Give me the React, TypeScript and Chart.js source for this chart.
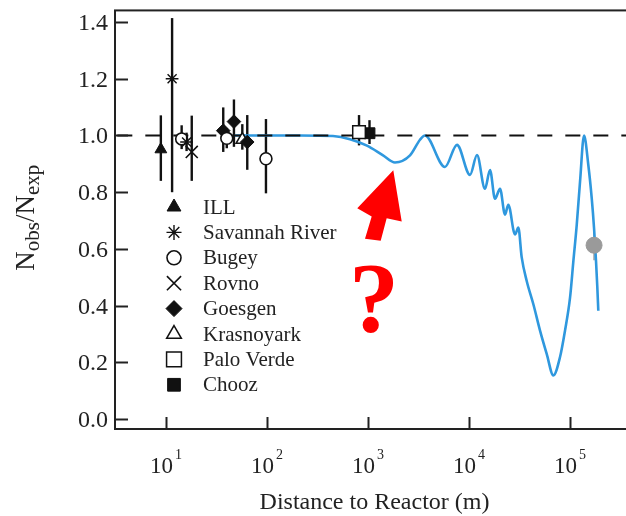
import React, { useEffect, useRef } from 'react';
import { Chart, registerables } from 'chart.js';
import { drawPoint } from 'chart.js/helpers';

Chart.register(...registerables);

// ---------- axes ----------
const yTickValues = [0, 0.2, 0.4, 0.6, 0.8, 1.0, 1.2, 1.4];
const yTickLabels = ['0.0', '0.2', '0.4', '0.6', '0.8', '1.0', '1.2', '1.4'];
const xTickValues = [10, 100, 1000, 10000, 100000];
const xTickExponents = ['1', '2', '3', '4', '5'];
const xAxisTitle = 'Distance to Reactor (m)';
const X_MIN = 3.13;
const X_MAX = 374800;
const Y_MIN = -0.035;
const Y_MAX = 1.441;

// ---------- experiments (distance m, Nobs/Nexp, error bar low/high) ----------
const illDist = [8.9];
const illRatio = [0.951];
const illLow = [0.84];
const illHigh = [1.071];

const savDist = [11.5, 16.0];
const savRatio = [1.2, 0.977];
const savLow = [0.8, 0.945];
const savHigh = [1.414, 1.01];

const bugeyDist = [14.3, 40, 97.7];
const bugeyRatio = [0.988, 0.99, 0.918];
const bugeyLow = [0.952, 0.955, 0.796];
const bugeyHigh = [1.036, 1.025, 1.058];

const rovnoDist = [18.0];
const rovnoRatio = [0.942];
const rovnoLow = [0.84];
const rovnoHigh = [1.07];

const goesgenDist = [36.9, 47.1, 63.8];
const goesgenRatio = [1.017, 1.049, 0.977];
const goesgenLow = [0.942, 0.96, 0.879];
const goesgenHigh = [1.099, 1.127, 1.072];

const krasDist = [57];
const krasRatio = [0.985];
const krasLow = [0.95];
const krasHigh = [1.04];

const paloDist = [815];
const paloRatio = [1.012];
const paloLow = [0.965];
const paloHigh = [1.072];

const choozDist = [1035];
const choozRatio = [1.008];
const choozLow = [0.97];
const choozHigh = [1.054];

// ---------- oscillation curve ----------
const oscDist = [48, 212, 450, 663, 977, 1409, 1850, 2605, 3273, 3664, 5781, 7603, 10233, 11995, 14390, 16140, 18080, 20280, 22710, 24490, 28530, 30770, 33240, 37250, 43350, 50470, 58750, 68390, 79620, 89190, 100000, 107900, 116500, 125600, 137600, 151800, 164000, 172900, 180800, 186300, 190500];
const oscRatio = [1.0, 1.0, 0.998, 0.987, 0.964, 0.93, 0.905, 0.93, 0.985, 1.0, 0.889, 0.967, 0.861, 0.931, 0.812, 0.878, 0.777, 0.812, 0.721, 0.756, 0.651, 0.675, 0.57, 0.487, 0.405, 0.312, 0.23, 0.154, 0.219, 0.312, 0.428, 0.557, 0.685, 0.837, 1.0, 0.895, 0.778, 0.673, 0.557, 0.464, 0.382];

// ---------- no-oscillation reference ----------
const refDist = [3.3, 374800];
const refRatio = [1.0, 1.0];

// ---------- future point (grey) ----------
const futureDist = [172900];
const futureRatio = [0.613];
const futureLow = [0.56];
const futureHigh = [0.665];

// ---------- legend ----------
const legendNames = ['ILL', 'Savannah River', 'Bugey', 'Rovno', 'Goesgen', 'Krasnoyark', 'Palo Verde', 'Chooz'];

// ---------- annotation (data coordinates) ----------
const arrowDist = [1780, 2157, 1531, 1336, 934, 1088, 783];
const arrowRatio = [0.8775, 0.6965, 0.708, 0.629, 0.636, 0.714, 0.743];
const questionAt = { x: 1146, y: 0.3115 };

const SERIF = '"Liberation Serif", "Times New Roman", serif';
const INK = '#222';

const pts = (xs: number[], ys: number[]) => xs.map((x, i) => ({ x, y: ys[i] }));

type Sym = { style: string; radius: number; fill: string; lw: number };
const symbols: Sym[] = [
  { style: 'triangle', radius: 8, fill: '#111', lw: 1 },
  { style: 'star', radius: 7.5, fill: '#fff', lw: 1.4 },
  { style: 'circle', radius: 7, fill: '#fff', lw: 1.6 },
  { style: 'crossRot', radius: 10, fill: '#fff', lw: 1.6 },
  { style: 'rectRot', radius: 8, fill: '#111', lw: 1 },
  { style: 'triangle', radius: 8.5, fill: '#fff', lw: 1.5 },
  { style: 'rect', radius: 10.5, fill: '#fff', lw: 1.5 },
  { style: 'rect', radius: 9, fill: '#111', lw: 1 },
];

const expData = [
  [illDist, illRatio, illLow, illHigh],
  [savDist, savRatio, savLow, savHigh],
  [bugeyDist, bugeyRatio, bugeyLow, bugeyHigh],
  [rovnoDist, rovnoRatio, rovnoLow, rovnoHigh],
  [goesgenDist, goesgenRatio, goesgenLow, goesgenHigh],
  [krasDist, krasRatio, krasLow, krasHigh],
  [paloDist, paloRatio, paloLow, paloHigh],
  [choozDist, choozRatio, choozLow, choozHigh],
];

const decorPlugin = {
  id: 'decor',
  beforeDatasetsDraw(chart: any) {
    const { ctx, scales } = chart;
    const x = scales.x, y = scales.y;
    ctx.save();
    chart.data.datasets.forEach((ds: any) => {
      if (!ds.errLow) return;
      ctx.strokeStyle = ds.errColor || '#111';
      ctx.lineWidth = ds.errWidth || 2.4;
      ds.data.forEach((p: any, i: number) => {
        const px = x.getPixelForValue(p.x);
        ctx.beginPath();
        ctx.moveTo(px, y.getPixelForValue(ds.errLow[i]));
        ctx.lineTo(px, y.getPixelForValue(ds.errHigh[i]));
        ctx.stroke();
      });
    });
    ctx.restore();
  },
  afterDraw(chart: any) {
    const { ctx, chartArea, scales } = chart;
    const x = scales.x, y = scales.y;
    const { left, right, top, bottom } = chartArea;
    ctx.save();
    // frame
    ctx.strokeStyle = INK;
    ctx.lineWidth = 2;
    ctx.strokeRect(left, top, right - left, bottom - top);
    // tick marks (inside) + y labels
    ctx.fillStyle = INK;
    ctx.font = `24px ${SERIF}`;
    ctx.textAlign = 'right';
    ctx.textBaseline = 'middle';
    yTickValues.forEach((v, i) => {
      const py = Math.round(y.getPixelForValue(v)) + 0.5;
      ctx.beginPath();
      ctx.moveTo(left, py);
      ctx.lineTo(left + 13, py);
      ctx.stroke();
      ctx.fillText(yTickLabels[i], left - 7, py + 1);
    });
    xTickValues.forEach((v) => {
      const px = Math.round(x.getPixelForValue(v)) + 0.5;
      ctx.beginPath();
      ctx.moveTo(px, bottom);
      ctx.lineTo(px, bottom - 12);
      ctx.stroke();
    });
    // x tick labels 10^n
    ctx.textBaseline = 'alphabetic';
    ctx.textAlign = 'left';
    xTickValues.forEach((v, i) => {
      const px = x.getPixelForValue(v);
      ctx.font = `23px ${SERIF}`;
      const w1 = ctx.measureText('10').width;
      ctx.font = `14px ${SERIF}`;
      const w2 = ctx.measureText(xTickExponents[i]).width;
      const start = px - (w1 + 2 + w2) / 2;
      ctx.font = `23px ${SERIF}`;
      ctx.fillText('10', start, bottom + 44);
      ctx.font = `14px ${SERIF}`;
      ctx.fillText(xTickExponents[i], start + w1 + 2, bottom + 30);
    });
    // x axis title
    ctx.font = `24px ${SERIF}`;
    ctx.textAlign = 'center';
    ctx.fillText(xAxisTitle, (left + right) / 2 + 3, bottom + 80);
    // y axis title N_obs/N_exp
    ctx.save();
    ctx.translate(27, (top + bottom) / 2 - 2);
    ctx.rotate(-Math.PI / 2);
    const parts = [
      { t: 'N', f: 27, dy: 0 },
      { t: 'obs', f: 21, dy: 5 },
      { t: '/', f: 27, dy: 0 },
      { t: 'N', f: 27, dy: 0 },
      { t: 'exp', f: 21, dy: 5 },
    ];
    let total = 0;
    parts.forEach((p) => { ctx.font = `${p.f}px ${SERIF}`; total += ctx.measureText(p.t).width; });
    let cx = -total / 2;
    ctx.textAlign = 'left';
    parts.forEach((p) => {
      ctx.font = `${p.f}px ${SERIF}`;
      ctx.fillText(p.t, cx, 7 + p.dy);
      cx += ctx.measureText(p.t).width;
    });
    ctx.restore();
    // legend
    ctx.textAlign = 'left';
    ctx.textBaseline = 'middle';
    legendNames.forEach((name, i) => {
      const ly = 207 + i * 25.4;
      const s = symbols[i];
      ctx.fillStyle = s.fill;
      ctx.strokeStyle = '#111';
      ctx.lineWidth = s.lw;
      drawPoint(ctx, { pointStyle: s.style as any, radius: s.radius, rotation: 0, borderWidth: s.lw }, 174, ly);
      ctx.fillStyle = INK;
      ctx.font = `21px ${SERIF}`;
      ctx.fillText(name, 203, ly + 1);
    });
    // red arrow
    ctx.fillStyle = '#ff0000';
    ctx.beginPath();
    arrowDist.forEach((d, i) => {
      const px = x.getPixelForValue(d);
      const py = y.getPixelForValue(arrowRatio[i]);
      if (i === 0) ctx.moveTo(px, py); else ctx.lineTo(px, py);
    });
    ctx.closePath();
    ctx.fill();
    // question mark
    ctx.font = `bold 100px ${SERIF}`;
    ctx.textAlign = 'center';
    ctx.textBaseline = 'alphabetic';
    ctx.fillText('?', x.getPixelForValue(questionAt.x), y.getPixelForValue(questionAt.y));
    ctx.restore();
  },
};

export default function App() {
  const ref = useRef<HTMLCanvasElement>(null);
  useEffect(() => {
    const canvas = ref.current;
    if (!canvas) return;
    const datasets: any[] = [];
    datasets.push({
      label: 'oscillation',
      data: pts(oscDist, oscRatio),
      showLine: true,
      borderColor: '#2f98de',
      borderWidth: 2.6,
      pointRadius: 0,
      cubicInterpolationMode: 'monotone',
      order: 5,
    });
    datasets.push({
      label: 'no oscillation',
      data: pts(refDist, refRatio),
      showLine: true,
      borderColor: '#111',
      borderWidth: 2.2,
      borderDash: [15, 13],
      pointRadius: 0,
      order: 4,
    });
    expData.forEach((e, i) => {
      const s = symbols[i];
      datasets.push({
        label: legendNames[i],
        data: pts(e[0], e[1]),
        pointStyle: s.style,
        pointRadius: s.radius * 0.85,
        backgroundColor: s.fill,
        borderColor: '#111',
        pointBorderWidth: s.lw,
        errLow: e[2],
        errHigh: e[3],
        order: 2,
      });
    });
    datasets.push({
      label: 'future',
      data: pts(futureDist, futureRatio),
      pointStyle: 'circle',
      pointRadius: 8,
      backgroundColor: '#9a9a9a',
      borderColor: '#9a9a9a',
      pointBorderWidth: 1,
      errLow: futureLow,
      errHigh: futureHigh,
      errColor: '#9a9a9a',
      errWidth: 1.5,
      order: 1,
    });

    const chart = new Chart(canvas, {
      type: 'scatter',
      data: { datasets },
      options: {
        responsive: false,
        animation: false,
        devicePixelRatio: 1,
        layout: { padding: { left: 0, top: 7, right: 12, bottom: 0 } },
        plugins: { legend: { display: false }, tooltip: { enabled: false } },
        scales: {
          x: {
            type: 'logarithmic',
            min: X_MIN,
            max: X_MAX,
            grid: { display: false },
            border: { display: false },
            ticks: { display: false },
            afterBuildTicks: (s: any) => { s.ticks = xTickValues.map((v) => ({ value: v })); },
            afterFit: (s: any) => { s.height = 87; s.paddingLeft = 0; s.paddingRight = 0; },
          },
          y: {
            type: 'linear',
            min: Y_MIN,
            max: Y_MAX,
            grid: { display: false },
            border: { display: false },
            ticks: { display: false },
            afterBuildTicks: (s: any) => { s.ticks = yTickValues.map((v) => ({ value: v })); },
            afterFit: (s: any) => { s.width = 115; s.paddingTop = 0; s.paddingBottom = 0; },
          },
        },
      } as any,
      plugins: [decorPlugin],
    });
    return () => chart.destroy();
  }, []);
  return (
    <div style={{ position: 'fixed', left: 0, top: 0, width: 626, height: 516, overflow: 'hidden', background: '#fff' }}>
      <canvas ref={ref} width={640} height={516} style={{ display: 'block', width: 640, height: 516 }} />
    </div>
  );
}
